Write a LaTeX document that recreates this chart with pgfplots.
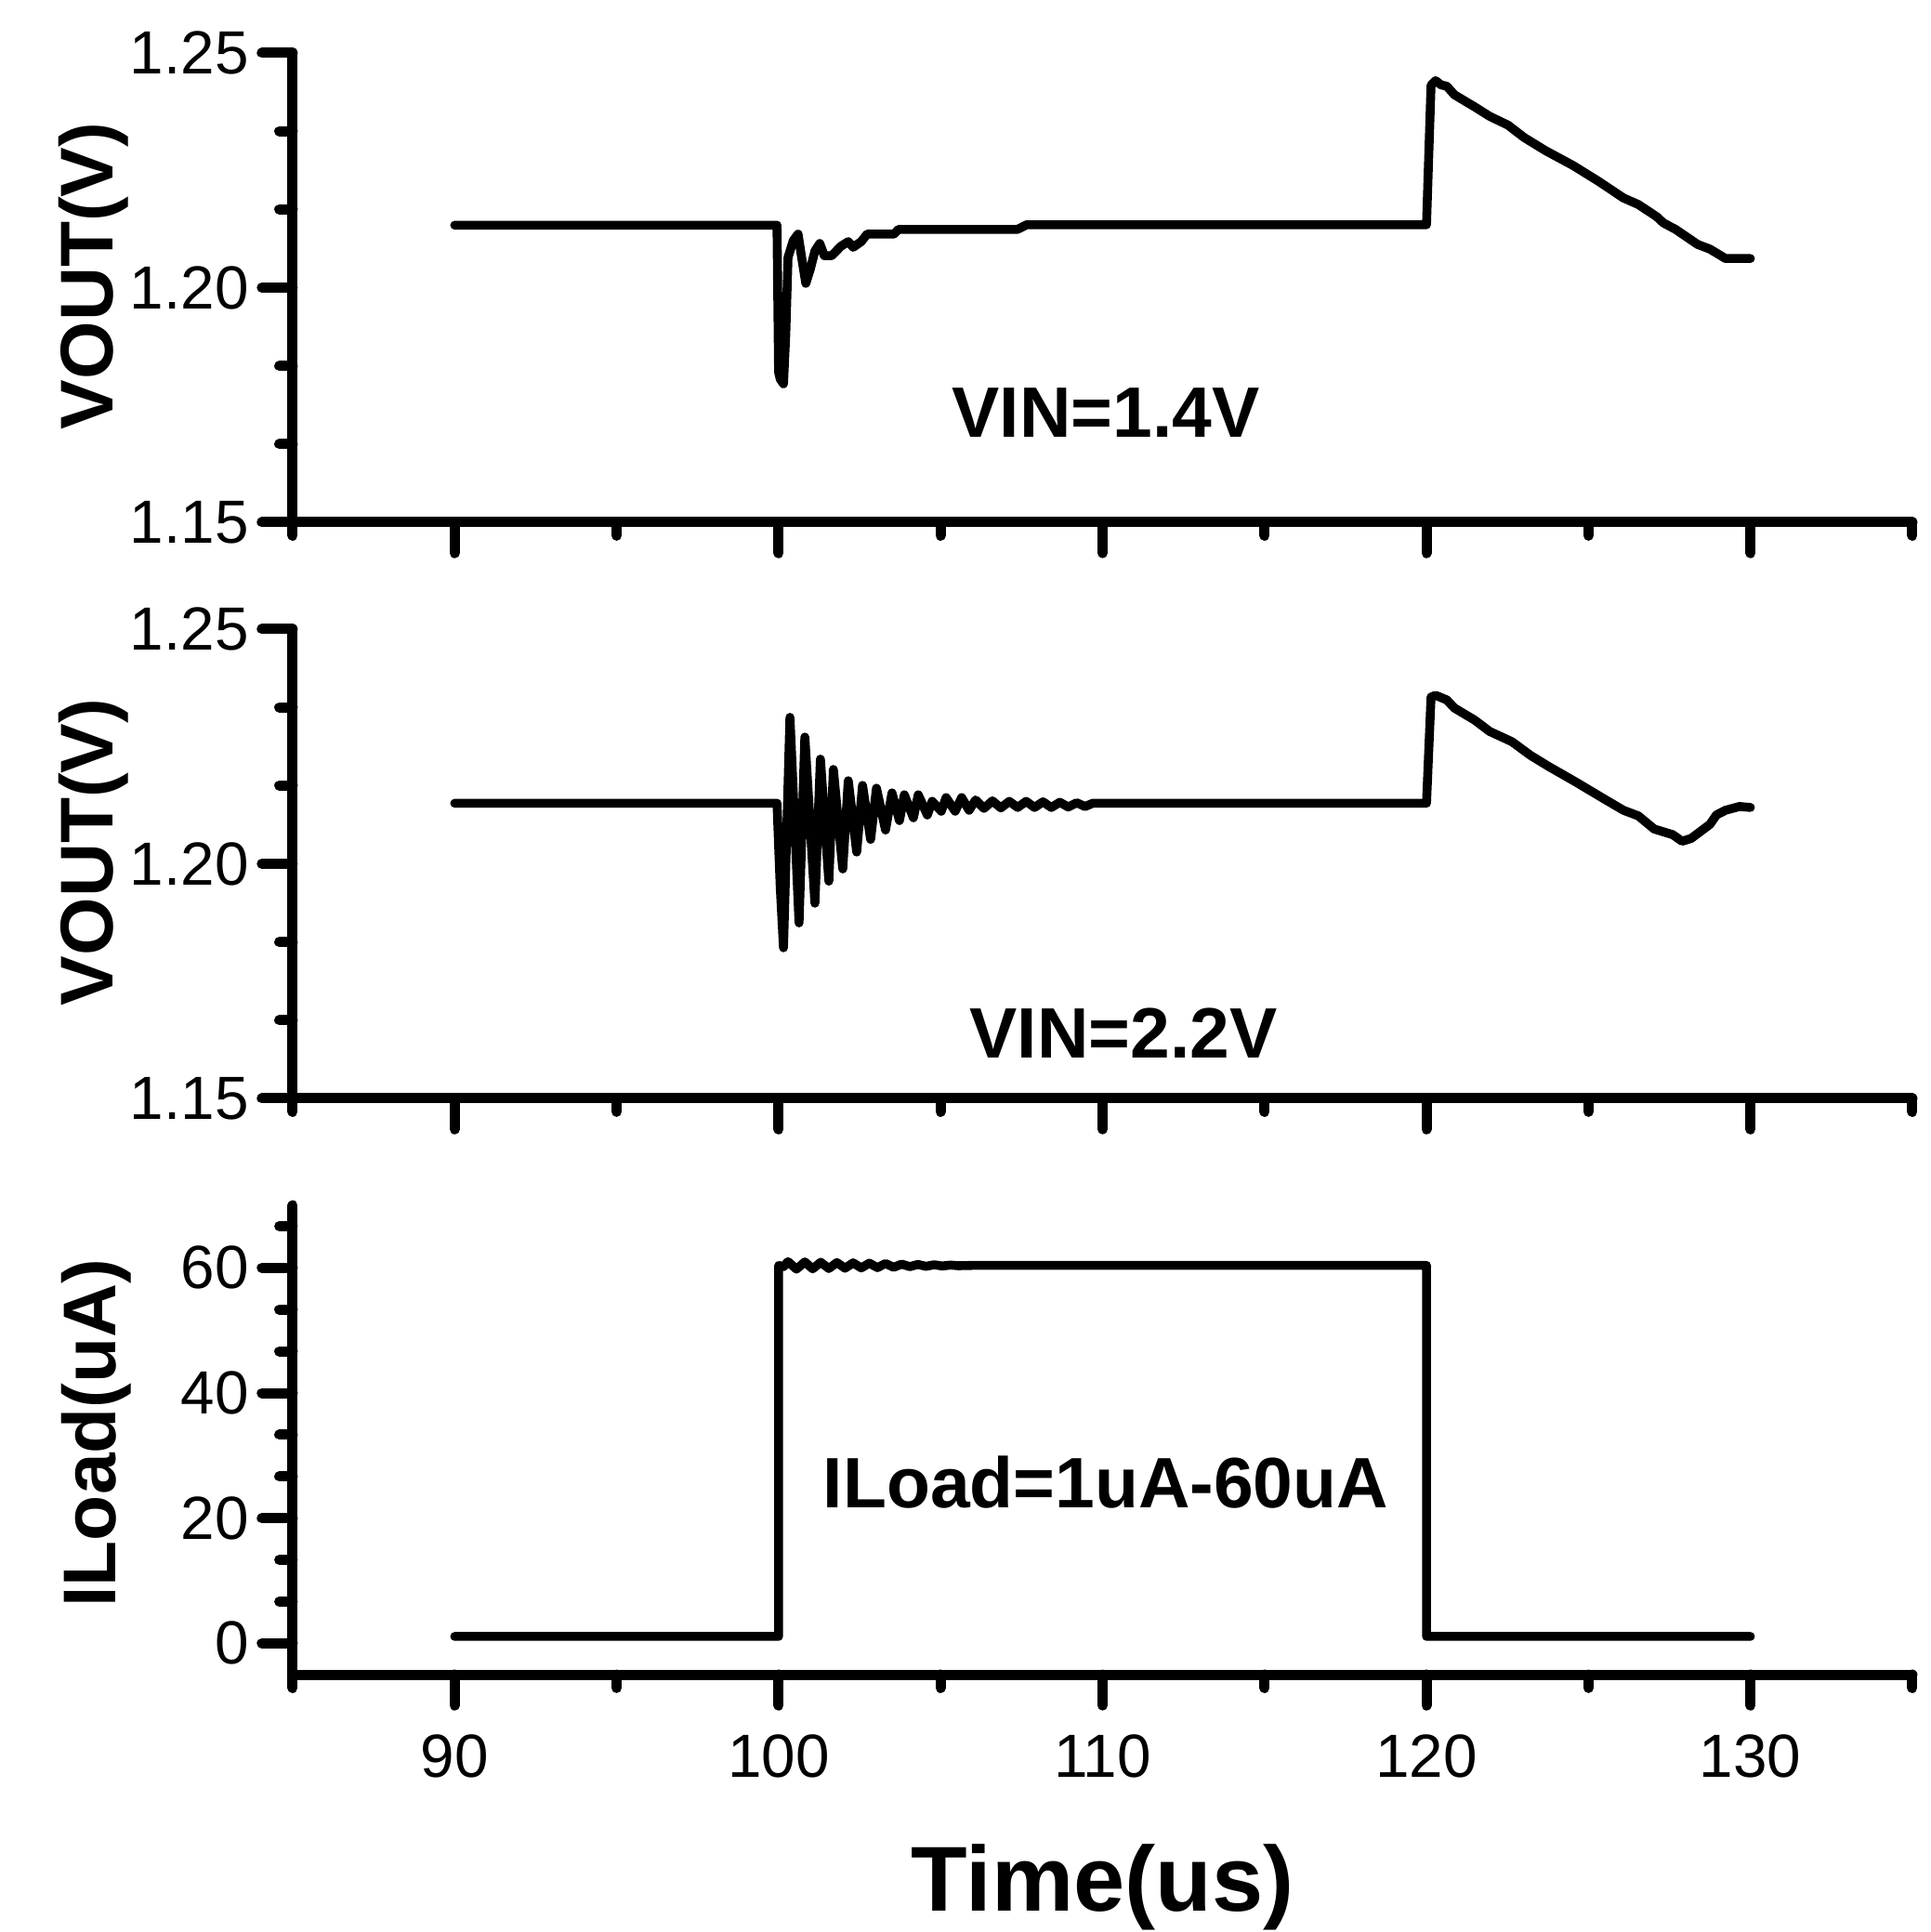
\documentclass[border=0pt]{standalone}
\usepackage{fontspec}
\setmainfont{Liberation Sans}
\usepackage{pgfplots}
\pgfplotsset{compat=1.18}
\pgfplotsset{
  trace/.style={black, line width=2.4pt, line join=round, line cap=round, mark=none},
  myaxis/.style={
    scale only axis, width=435.75pt, height=126.25pt,
    anchor=south west,
    axis lines=left,
    axis line style={-, line width=2.75pt, line cap=round},
    xmin=85, xmax=135,
    xtick={90,100,...,130},
    minor xtick={85,95,...,135},
    tick align=outside,
    major tick length=8.3pt,
    minor tick length=3.6pt,
    every tick/.style={black, line width=2.75pt, line cap=round},
    every major tick/.style={black, line width=2.75pt, line cap=round},
    every minor tick/.style={black, line width=2.75pt, line cap=round},
    /pgf/number format/assume math mode=true,
    tick label style={font=\fontsize{16.4}{19}\selectfont},
    xticklabel style={yshift=-4.3pt},
    ylabel style={at={(axis description cs:-0.1228,0.525)}, anchor=center, font=\fontsize{20.1}{24}\selectfont\bfseries},
  },
  vaxis/.style={
    myaxis,
    ymin=1.15, ymax=1.25,
    ytick={1.15,1.20,1.25},
    minor ytick={1.16667,1.18333,1.21667,1.23333},
    yticklabel style={/pgf/number format/.cd, fixed, fixed zerofill, precision=2},
    xticklabels={},
    ylabel={VOUT(V)},
  },
}
\begin{document}
\begin{tikzpicture}
\path[use as bounding box] (0,0) rectangle (519.5pt,519.75pt);

% top panel
\begin{axis}[vaxis, at={(78.75pt,379.25pt)}]
\addplot[trace] coordinates {
(90,1.2133) (99.95,1.2133) (100.0,1.182) (100.05,1.1805) (100.15,1.1795) (100.22,1.19) (100.29,1.2064) (100.45,1.210) (100.6,1.2114) (100.72,1.206) (100.84,1.2009) (100.98,1.204) (101.12,1.2078) (101.27,1.2094) (101.41,1.2068) (101.64,1.2068) (101.92,1.2088) (102.15,1.2098) (102.3,1.2086) (102.55,1.2098) (102.73,1.2114) (103.56,1.2114) (103.7,1.2124) (107.37,1.2124) (107.66,1.2134) (120.0,1.2134) (120.14,1.2431) (120.28,1.2441) (120.45,1.2432) (120.63,1.2429) (120.86,1.2411) (121.49,1.2385) (121.95,1.2365) (122.52,1.2346) (123.01,1.232) (123.67,1.2292) (124.53,1.226) (125.30,1.2227) (126.08,1.2191) (126.54,1.2177) (127.11,1.2151) (127.31,1.2138) (127.69,1.2124) (128.37,1.2092) (128.75,1.2082) (129.23,1.2062) (130.0,1.2062)
};
\node[font=\fontsize{19.2}{22}\selectfont\bfseries] at (axis cs:110.1,1.1734) {VIN=1.4V};
\end{axis}

% middle panel
\begin{axis}[vaxis, at={(78.75pt,224.25pt)}]
\addplot[trace] coordinates {
(90,1.2129) (99.95,1.2129) (100.05,1.195) (100.15,1.1821) (100.35,1.2312) (100.63,1.1874) (100.81,1.227) (101.12,1.1916) (101.29,1.2223) (101.55,1.1963) (101.69,1.2201) (101.98,1.1989) (102.15,1.2177) (102.41,1.2025) (102.59,1.2167) (102.84,1.2052) (103.02,1.2161) (103.30,1.2072) (103.5,1.2151) (103.73,1.2092) (103.88,1.2147) (104.16,1.2098) (104.31,1.2147) (104.59,1.2104) (104.74,1.2133) (105.02,1.2112) (105.17,1.2141) (105.45,1.2112) (105.65,1.2141) (105.88,1.2114) (106.08,1.2136) (106.34,1.2118) (106.6,1.2134) (106.86,1.2119) (107.12,1.2133) (107.38,1.2120) (107.64,1.2133) (107.9,1.2120) (108.16,1.2132) (108.42,1.2120) (108.68,1.2131) (108.94,1.2121) (109.2,1.2130) (109.46,1.2122) (109.7,1.2129) (120.0,1.2129) (120.14,1.2355) (120.28,1.2359) (120.63,1.2349) (120.86,1.2332) (121.49,1.2306) (121.95,1.2282) (122.64,1.2260) (123.21,1.2231) (123.78,1.2207) (124.64,1.2173) (125.39,1.2142) (126.08,1.2114) (126.54,1.2102) (127.03,1.2074) (127.6,1.2062) (127.89,1.2048) (128.17,1.2054) (128.75,1.2084) (128.95,1.2104) (129.23,1.2114) (129.66,1.2122) (130.0,1.2120)
};
\node[font=\fontsize{19.2}{22}\selectfont\bfseries] at (axis cs:110.65,1.164) {VIN=2.2V};
\end{axis}

% bottom panel
\begin{axis}[myaxis, at={(78.75pt,69.25pt)},
  ymin=-5, ymax=70,
  ytick={0,20,40,60},
  minor ytick={6.667,13.333,26.667,33.333,46.667,53.333,66.667},
  ylabel={ILoad(uA)},
  ylabel style={at={(axis description cs:-0.121,0.515)}},
  xlabel={Time(us)},
  xlabel style={at={(axis description cs:0.5,-0.503)}, anchor=base, font=\fontsize{24.8}{28}\selectfont\bfseries},
]
\addplot[trace] coordinates {
(90,1.1) (100,1.1) (100,60.4) (100.15,60.2) (100.29,61.0) (100.55,59.8) (100.81,60.95) (101.05,59.85) (101.3,60.9) (101.55,59.9) (101.8,60.85) (102.05,59.95) (102.3,60.8) (102.55,60.0) (102.8,60.75) (103.05,60.05) (103.3,60.7) (103.55,60.1) (103.8,60.6) (104.05,60.2) (104.3,60.55) (104.55,60.25) (104.8,60.5) (105.05,60.3) (105.3,60.45) (105.55,60.35) (106,60.4) (120,60.4) (120,1.1) (130,1.1)
};
\node[font=\fontsize{19.2}{22}\selectfont\bfseries] at (axis cs:110.1,25.7) {ILoad=1uA-60uA};
\end{axis}
\end{tikzpicture}
\end{document}
